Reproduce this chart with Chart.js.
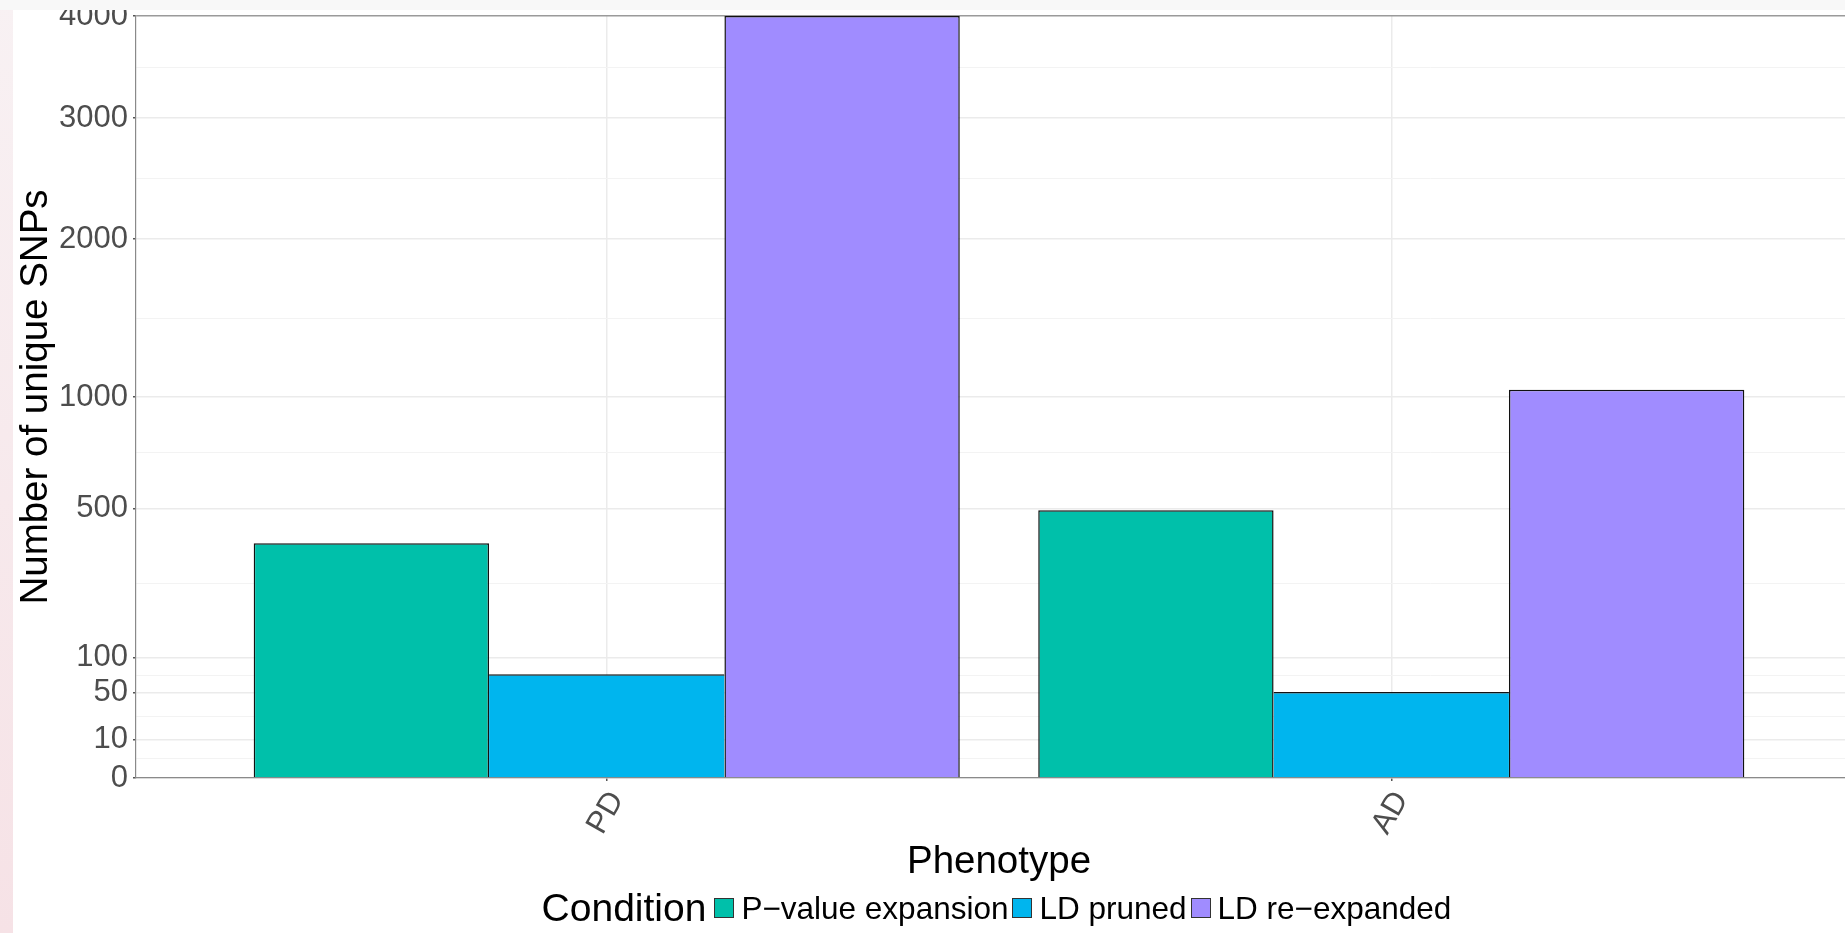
<!DOCTYPE html>
<html>
<head>
<meta charset="utf-8">
<script src="https://cdn.jsdelivr.net/npm/chart.js@4.4.1/dist/chart.umd.min.js"></script>
<style>
html,body{margin:0;padding:0;overflow:hidden;width:1845px;height:933px;background:#fff;}
#wrap{position:absolute;left:0;top:0;width:1872px;height:933px;}
#strip{position:absolute;left:0;top:0;width:13px;height:933px;background:linear-gradient(#f8f1f3,#f6e2e6);z-index:2;}
#band{position:absolute;left:0;top:0;width:1845px;height:10px;background:#f8f8f8;z-index:3;}
#legend{position:absolute;left:0;top:888px;width:1997px;height:40px;display:flex;justify-content:center;align-items:center;font-family:'Liberation Sans',Arial,Helvetica,sans-serif;z-index:4;white-space:nowrap;}
#legend .title{font-size:39px;color:#000;margin-right:8px;}
#legend .key{width:18px;height:18px;border:1px solid #333;margin-right:7px;}
#legend .lab{font-size:31.5px;color:#000;margin-right:4px;}
</style>
</head>
<body>
<div id="wrap"><canvas id="c" width="1872" height="933"></canvas></div>
<div id="strip"></div>
<div id="band"></div>
<div id="legend"></div>
<script>
// ---- data ----
const categories = ['PD', 'AD'];
const seriesNames = ['P\u2212value expansion', 'LD pruned', 'LD re\u2212expanded'];
const pValueExpansion = [380, 494];
const ldPruned = [74, 51];
const ldReexpanded = [4000, 1039];
const yTickValues = [0, 10, 50, 100, 500, 1000, 2000, 3000, 4000];
const xTitle = 'Phenotype';
const yTitle = 'Number of unique SNPs';
const legendTitle = 'Condition';

const seriesValues = [pValueExpansion, ldPruned, ldReexpanded];
const seriesColors = ['#00C0AA', '#00B5EE', '#A08CFF'];
const FONT = "'Liberation Sans', Arial, Helvetica, sans-serif";

// square-root scale (like ggplot scale_y_sqrt)
class SqrtScale extends Chart.LinearScale {
  getPixelForValue(value) {
    const a = Math.sqrt(Math.max(0, this.min)), b = Math.sqrt(Math.max(0, this.max));
    const s = Math.sqrt(Math.max(0, value));
    return this.getPixelForDecimal((s - a) / (b - a));
  }
  getValueForPixel(pixel) {
    const a = Math.sqrt(Math.max(0, this.min)), b = Math.sqrt(Math.max(0, this.max));
    const s = a + this.getDecimalForPixel(pixel) * (b - a);
    return s * s;
  }
}
SqrtScale.id = 'sqrt';
SqrtScale.defaults = {};
Chart.register(SqrtScale);

// minor breaks: midpoints in sqrt space between major breaks
const minorValues = [];
for (let i = 0; i < yTickValues.length - 1; i++) {
  const m = (Math.sqrt(yTickValues[i]) + Math.sqrt(yTickValues[i + 1])) / 2;
  minorValues.push(m * m);
}
const isMajor = v => yTickValues.some(t => Math.abs(t - v) < 1e-6);
const yMax = yTickValues[yTickValues.length - 1];

const BW = 1.5;
function sideBorders(ctx) {
  const ds = ctx.datasetIndex, i = ctx.dataIndex;
  const v = seriesValues[ds][i];
  const prev = ds > 0 ? seriesValues[ds - 1][i] : null;
  const next = ds < seriesValues.length - 1 ? seriesValues[ds + 1][i] : null;
  return {
    top: BW,
    bottom: 0,
    left: (prev === null || v >= prev) ? BW : 0,
    right: (next === null || v > next) ? BW : 0
  };
}

const datasets = seriesNames.map((name, k) => ({
  label: name,
  data: categories.map((c, i) => ({ x: i + 1, y: seriesValues[k][i] })),
  backgroundColor: seriesColors[k],
  borderColor: '#111',
  borderWidth: sideBorders,
  borderSkipped: false
}));

const chart = new Chart(document.getElementById('c'), {
  type: 'bar',
  data: { datasets },
  options: {
    responsive: false,
    devicePixelRatio: 1,
    animation: false,
    events: [],
    layout: { padding: { top: 16, left: 0, right: 10, bottom: 0 } },
    categoryPercentage: 0.9,
    barPercentage: 1.0,
    plugins: { legend: { display: false }, tooltip: { enabled: false } },
    scales: {
      x: {
        type: 'linear',
        offset: false,
        min: 0.4,
        max: categories.length + 0.6,
        afterBuildTicks: s => { s.ticks = categories.map((c, i) => ({ value: i + 1 })); },
        afterFit: s => { s.height = 155; s.paddingLeft = 0; s.paddingRight = 0; },
        ticks: {
          autoSkip: false,
          minRotation: 60,
          maxRotation: 60,
          padding: 4,
          labelOffset: 10,
          color: '#4d4d4d',
          font: { family: FONT, size: 31 },
          callback: v => categories[Math.round(v) - 1] || ''
        },
        grid: {
          offset: false,
          color: '#ebebeb',
          lineWidth: 1.5,
          drawTicks: true,
          tickLength: 3,
          tickColor: '#555'
        },
        border: { display: true, color: '#8a8a8a', width: 1.2 },
        title: {
          display: true,
          text: xTitle,
          color: '#000',
          font: { family: FONT, size: 38.5 },
          padding: { top: 0, bottom: 48 }
        }
      },
      y: {
        type: 'sqrt',
        min: 0,
        max: yMax,
        afterBuildTicks: s => {
          s.ticks = yTickValues.concat(minorValues).sort((a, b) => a - b).map(v => ({ value: v }));
        },
        afterFit: s => { s.width = 136; s.paddingTop = 0; s.paddingBottom = 0; },
        ticks: {
          autoSkip: false,
          padding: 5,
          color: '#4d4d4d',
          font: { family: FONT, size: 31 },
          callback: v => isMajor(v) ? String(Math.round(v)) : ''
        },
        grid: {
          color: c => {
            const v = c.tick ? c.tick.value : 0;
            if (Math.abs(v - yMax) < 1e-6) return '#9a9a9a';
            return isMajor(v) ? '#ebebeb' : '#f3f3f3';
          },
          lineWidth: c => {
            const v = c.tick ? c.tick.value : 0;
            if (Math.abs(v - yMax) < 1e-6) return 1.5;
            return isMajor(v) ? 1.5 : 1;
          },
          drawTicks: true,
          tickLength: 3,
          tickColor: c => (c.tick && isMajor(c.tick.value)) ? '#555' : 'rgba(0,0,0,0)'
        },
        border: { display: true, color: '#8a8a8a', width: 1.2 },
        title: {
          display: true,
          text: yTitle,
          color: '#000',
          font: { family: FONT, size: 38.5 },
          padding: { top: 13, bottom: 0 }
        }
      }
    }
  }
});

// legend (horizontal, title inline like ggplot bottom legend)
const leg = document.getElementById('legend');
const t = document.createElement('span');
t.className = 'title';
t.textContent = legendTitle;
leg.appendChild(t);
chart.data.datasets.forEach(ds => {
  const k = document.createElement('span');
  k.className = 'key';
  k.style.background = ds.backgroundColor;
  leg.appendChild(k);
  const l = document.createElement('span');
  l.className = 'lab';
  l.textContent = ds.label;
  leg.appendChild(l);
});
</script>
</body>
</html>
